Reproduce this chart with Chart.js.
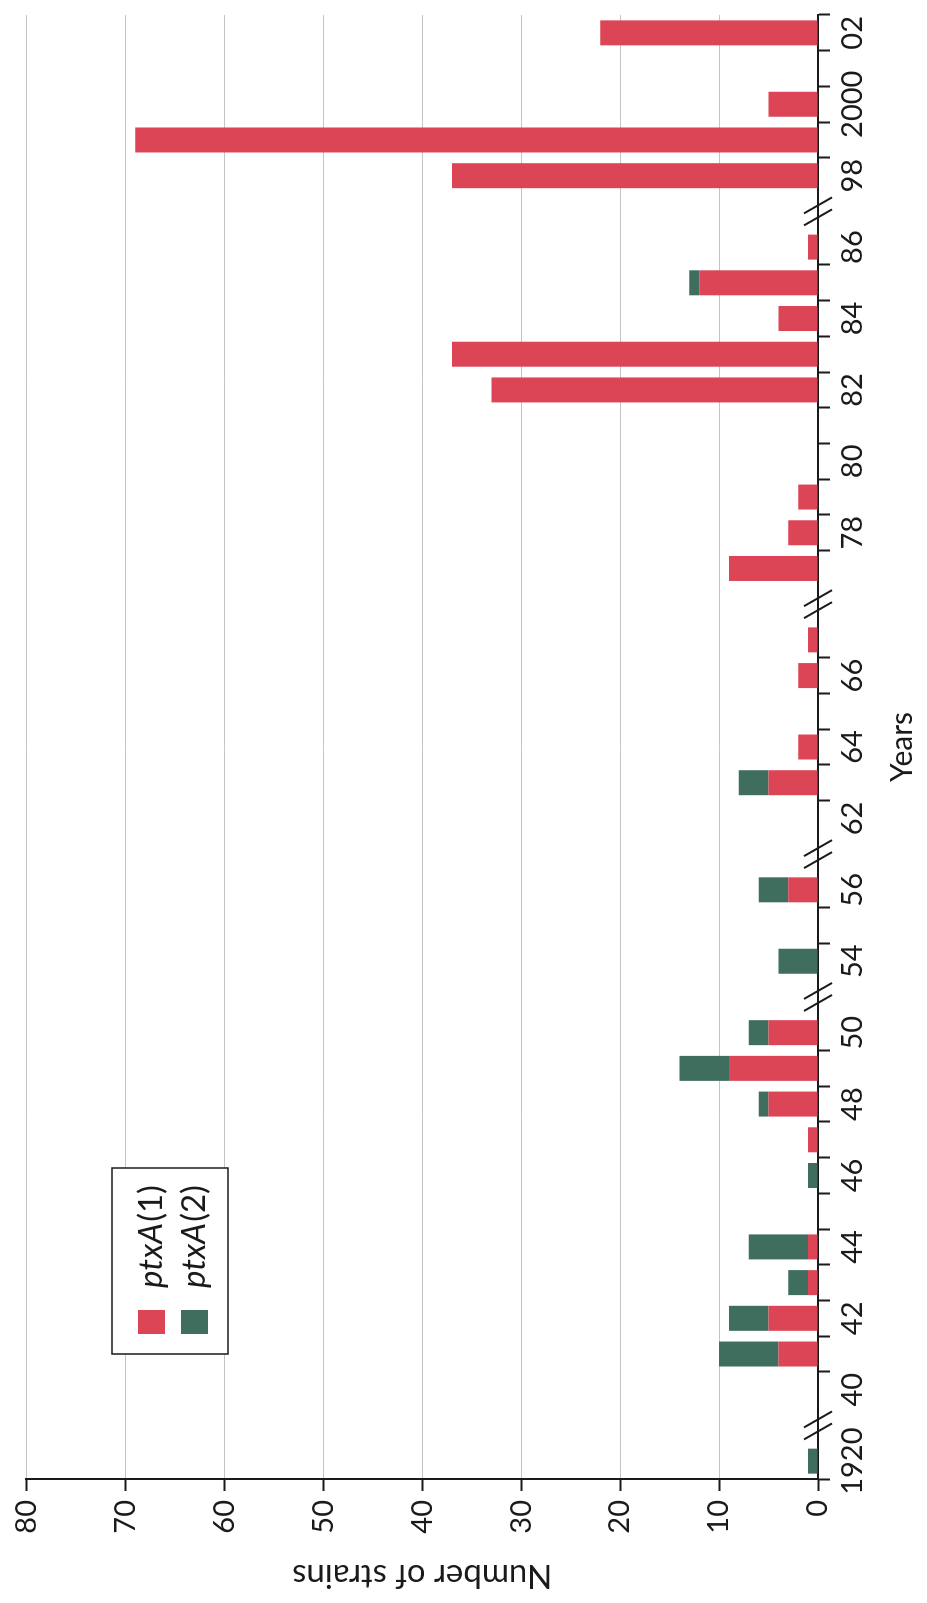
<!DOCTYPE html>
<html>
<head>
<meta charset="utf-8">
<script src="https://cdn.jsdelivr.net/npm/chart.js@4.4.1/dist/chart.umd.min.js"></script>
<style>
  html, body { margin: 0; padding: 0; background: #fff; overflow: hidden; }
  /* the figure is printed turned a quarter turn, so draw it upright and rotate the box */
  #wrap {
    position: absolute; left: 0; top: 0;
    width: 1603px; height: 927px;
    transform-origin: 0 0;
    transform: translateY(1603px) rotate(-90deg);
  }
</style>
</head>
<body>
<div id="wrap"><canvas id="strainsChart" width="1603" height="927"></canvas></div>
<script>
// one slot per year, "break" = the // gap in the axis
const years = [
  "1920", "break",
  "1940", "1941", "1942", "1943", "1944", "1945", "1946", "1947", "1948", "1949", "1950", "break",
  "1954", "1955", "1956", "break",
  "1962", "1963", "1964", "1965", "1966", "1967", "break",
  "1977", "1978", "1979", "1980", "1981", "1982", "1983", "1984", "1985", "1986", "break",
  "1998", "1999", "2000", "2001", "2002",
];
const tickLabels = [
  "1920", "",
  "40", "", "42", "", "44", "", "46", "", "48", "", "50", "",
  "54", "", "56", "",
  "62", "", "64", "", "66", "", "",
  "", "78", "", "80", "", "82", "", "84", "", "86", "",
  "98", "", "2000", "", "02",
];
const seriesNames = ["ptxA(1)", "ptxA(2)"];
const ptxA1 = [
  0, null,
  0, 4, 5, 1, 1, 0, 0, 1, 5, 9, 5, null,
  0, 0, 3, null,
  0, 5, 2, 0, 2, 1, null,
  9, 3, 2, 0, 0, 33, 37, 4, 12, 1, null,
  37, 69, 5, 0, 22,
];
const ptxA2 = [
  1, null,
  0, 6, 4, 2, 6, 0, 1, 0, 1, 5, 2, null,
  4, 0, 3, null,
  0, 3, 0, 0, 0, 0, null,
  0, 0, 0, 0, 0, 0, 0, 0, 1, 0, null,
  0, 0, 0, 0, 0,
];

const RED = "#db4556";
const GREEN = "#3f6e5e";
const INK = "#1a1a1a";

Chart.defaults.font.family = "Lato, 'Open Sans', sans-serif";
Chart.defaults.color = INK;

const breakMarks = {
  id: "breakMarks",
  afterDraw(chart) {
    const ctx = chart.ctx;
    const x = chart.scales.x;
    const y0 = x.top;
    ctx.save();
    ctx.strokeStyle = INK;
    ctx.lineWidth = 2;
    years.forEach((yr, i) => {
      if (yr !== "break") return;
      const cx = x.getPixelForValue(i);
      [-6, 6].forEach((off) => {
        ctx.beginPath();
        ctx.moveTo(cx + off - 8, y0 - 14);
        ctx.lineTo(cx + off + 8, y0 + 14);
        ctx.stroke();
      });
    });
    ctx.restore();
  },
};

const boxLegend = {
  id: "boxLegend",
  afterDraw(chart, args, opts) {
    const ctx = chart.ctx;
    ctx.save();
    ctx.fillStyle = "#fff";
    ctx.fillRect(opts.left, opts.top, opts.width, opts.height);
    ctx.strokeStyle = INK;
    ctx.lineWidth = 1.5;
    ctx.strokeRect(opts.left, opts.top, opts.width, opts.height);
    chart.data.datasets.forEach((ds, i) => {
      const cy = opts.top + 39 + i * opts.rowGap;
      ctx.fillStyle = ds.backgroundColor;
      ctx.fillRect(opts.left + 20, cy - 13, 24, 27);
      const cut = ds.label.indexOf("(");
      const gene = ds.label.slice(0, cut);
      ctx.fillStyle = INK;
      ctx.textBaseline = "middle";
      ctx.font = "italic 33px Lato";
      ctx.fillText(gene, opts.left + 66, cy);
      const w = ctx.measureText(gene).width;
      ctx.font = "33px Lato";
      ctx.fillText(ds.label.slice(cut), opts.left + 67 + w, cy);
    });
    ctx.restore();
  },
};

function breakTick(ctx) {
  const i = ctx.index;
  if (i !== undefined && (years[i] === "break" || years[i - 1] === "break")) {
    return "rgba(0,0,0,0)";
  }
  return INK;
}

new Chart(document.getElementById("strainsChart"), {
  type: "bar",
  data: {
    labels: years,
    datasets: [
      { label: seriesNames[0], data: ptxA1, backgroundColor: RED },
      { label: seriesNames[1], data: ptxA2, backgroundColor: GREEN },
    ],
  },
  options: {
    responsive: false,
    animation: false,
    layout: { padding: { left: 0, right: 15, top: 20, bottom: 0 } },
    datasets: { bar: { categoryPercentage: 1, barPercentage: 0.7 } },
    plugins: {
      legend: { display: false },
      tooltip: { enabled: false },
      boxLegend: { left: 249, top: 112, width: 186, height: 116, rowGap: 43 },
    },
    scales: {
      x: {
        stacked: true,
        afterFit: (s) => { s.height = 109; },
        grid: {
          offset: true,
          drawOnChartArea: false,
          tickLength: 12,
          tickWidth: 2,
          tickColor: breakTick,
        },
        border: { color: INK, width: 2 },
        ticks: {
          autoSkip: false,
          maxRotation: 0,
          padding: 5,
          font: { size: 29 },
          callback: (v, i) => tickLabels[i],
        },
        title: {
          display: true,
          text: "Years",
          font: { size: 30 },
          padding: { top: 0, bottom: 7 },
        },
      },
      y: {
        stacked: true,
        min: 0,
        max: 80,
        afterFit: (s) => { s.width = 124; },
        grid: { color: "#c4c4c4", lineWidth: 1, tickLength: 12, tickWidth: 2, tickColor: INK },
        border: { color: INK, width: 2 },
        ticks: { stepSize: 10, padding: 9, font: { size: 29 } },
        title: {
          display: true,
          text: "Number of strains",
          font: { size: 33 },
          padding: { top: 8, bottom: 0 },
        },
      },
    },
  },
  plugins: [breakMarks, boxLegend],
});
</script>
</body>
</html>
